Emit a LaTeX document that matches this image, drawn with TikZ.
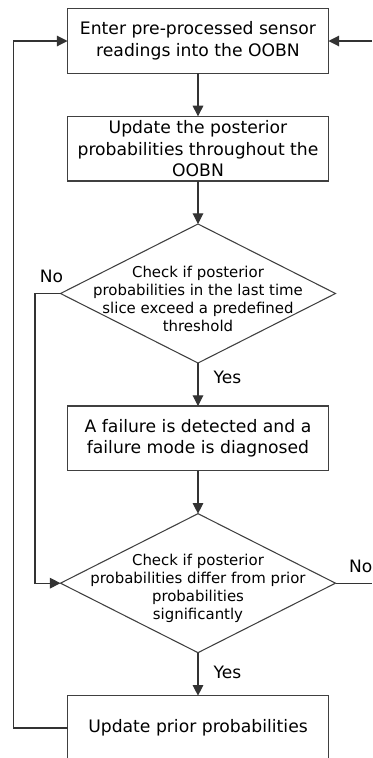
\documentclass[tikz,border=0pt]{standalone}
\usepackage{fontspec}
\setmainfont{DejaVu Sans}
\usetikzlibrary{positioning,shapes.geometric,arrows.meta}

\begin{document}
\begin{tikzpicture}[x=0.75pt,y=-0.75pt,node distance=32.25pt,
  box/.style={draw=black!75,line width=0.8pt,minimum width=195.75pt,minimum height=48.5pt,
    inner sep=0pt,outer sep=0pt,align=center,font=\fontsize{12.9}{16.3}\selectfont},
  dec/.style={draw=black!75,line width=0.8pt,diamond,minimum width=206.25pt,
    minimum height=104.25pt,inner sep=0pt,outer sep=0pt},
  dtxt/.style={align=center,font=\fontsize{11.2}{13.6}\selectfont,yshift=-4pt},
  line/.style={draw=black!80,line width=0.8pt},
  arr/.style={line,-{Triangle[length=8pt,width=8pt]}},
  lbl/.style={font=\fontsize{12.8}{15}\selectfont}]
\useasboundingbox (0,0) rectangle (372,758);
\coordinate (ll) at (13.5,0);
\coordinate (nl) at (35,0);
\coordinate (nr) at (372,0);
\node [box] (b1) at (198,41) {Enter pre-processed sensor\\readings into the OOBN};
\node [box,below=of b1] (b2) {Update the posterior\\probabilities throughout the\\OOBN};
\node [dec,below=of b2,label={[dtxt]center:{Check if posterior\\probabilities in the last time\\slice exceed a predefined\\threshold}}] (d1) {};
\node [box,below=of d1] (b3) {A failure is detected and a\\failure mode is diagnosed};
\node [dec,below=of b3,label={[dtxt]center:{Check if posterior\\probabilities differ from prior\\probabilities\\significantly}}] (d2) {};
\node [box,below=of d2] (b4) {Update prior probabilities};
\draw [arr] (b1) -- (b2);
\draw [arr] (b2) -- (d1);
\draw [arr] (d1) -- node[lbl,pos=0.33,right=8pt]{Yes} (b3);
\draw [arr] (b3) -- (d2);
\draw [arr] (d2) -- node[lbl,pos=0.45,right=8pt]{Yes} (b4);
\draw [arr] (d1.west) -- (d1.west -| nl) node[lbl,anchor=south west,yshift=4pt]{No}
  -- (d2.west -| nl) -- (d2.west);
\draw [line] (d2.east) -- node[lbl,pos=0.69,above,yshift=4pt]{No} (d2.east -| nr);
\draw [arr] (b1.east -| nr) -- (b1.east);
\draw [arr] (b4.west) -- (b4.west -| ll) -- (b1.west -| ll) -- (b1.west);
\end{tikzpicture}
\end{document}
